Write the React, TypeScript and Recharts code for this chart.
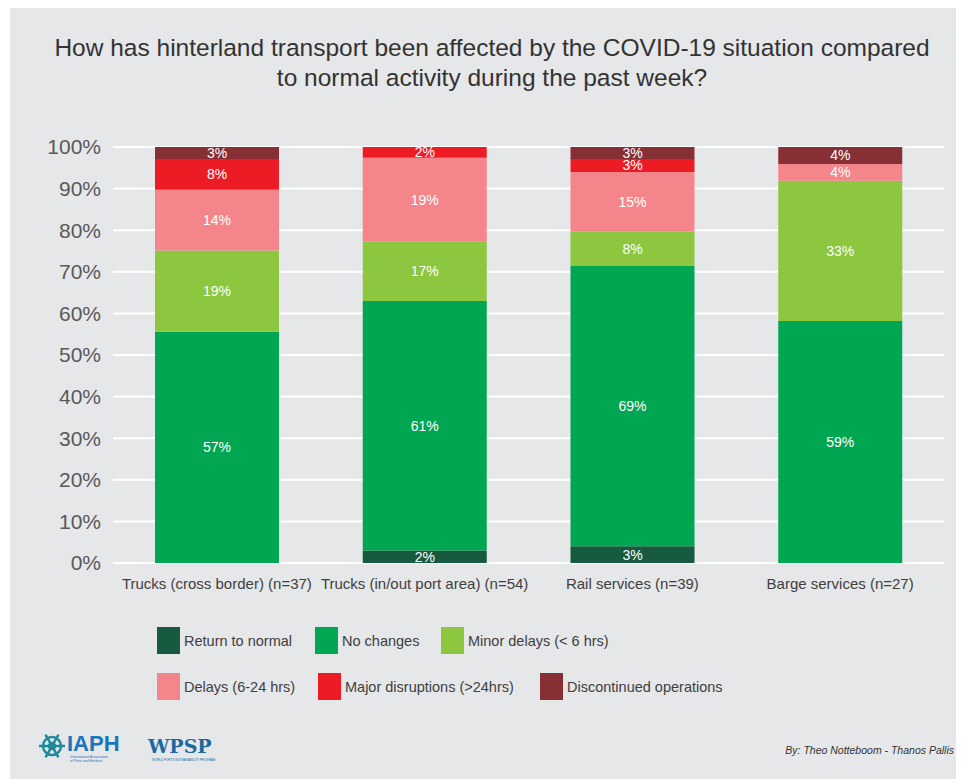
import React from 'react'
import { Bar, BarChart, CartesianGrid, LabelList, XAxis, YAxis } from 'recharts'

const categories = [
  'Trucks (cross border) (n=37)',
  'Trucks (in/out port area) (n=54)',
  'Rail services (n=39)',
  'Barge services (n=27)',
]
// segment heights as drawn (%)
const returnToNormal = [0, 3.0, 4.0, 0]
const noChanges = [55.6, 60.0, 67.4, 58.2]
const minorDelays = [19.5, 14.2, 8.2, 33.7]
const delays = [14.6, 20.2, 14.4, 4.0]
const majorDisruptions = [7.4, 2.6, 3.1, 0]
const discontinued = [2.9, 0, 2.9, 4.1]
// percentages printed on the segments
const returnLabels = ['', '2%', '3%', '']
const noChangesLabels = ['57%', '61%', '69%', '59%']
const minorLabels = ['19%', '17%', '8%', '33%']
const delaysLabels = ['14%', '19%', '15%', '4%']
const majorLabels = ['8%', '2%', '3%', '']
const discontinuedLabels = ['3%', '', '3%', '4%']
const yTicks = [0, 10, 20, 30, 40, 50, 60, 70, 80, 90, 100]

const series = [
  { key: 'ret', name: 'Return to normal', color: '#175a3f', values: returnToNormal, labels: returnLabels },
  { key: 'noc', name: 'No changes', color: '#00a651', values: noChanges, labels: noChangesLabels },
  { key: 'min', name: 'Minor delays (< 6 hrs)', color: '#8dc63f', values: minorDelays, labels: minorLabels },
  { key: 'del', name: 'Delays (6-24 hrs)', color: '#f4868b', values: delays, labels: delaysLabels },
  { key: 'maj', name: 'Major disruptions (>24hrs)', color: '#ed1c24', values: majorDisruptions, labels: majorLabels },
  { key: 'dis', name: 'Discontinued operations', color: '#862f35', values: discontinued, labels: discontinuedLabels },
]

const data = categories.map((c, i) => {
  const row: any = { name: c }
  series.forEach((s) => {
    row[s.key] = s.values[i]
    row[s.key + 'Label'] = s.labels[i]
  })
  return row
})

const font = '"Liberation Sans", Arial, Helvetica, sans-serif'

// legend squares placed like the original (page coords minus the 10/8 offset)
const legendPos = [
  { x: 147, y: 619 },
  { x: 305, y: 619 },
  { x: 431, y: 619 },
  { x: 147, y: 665 },
  { x: 308, y: 665 },
  { x: 530, y: 665 },
]

export default function App() {
  return (
    <div
      style={{
        position: 'relative',
        width: 954,
        height: 771,
        marginLeft: 2,
        background: '#e6e7e9',
        fontFamily: font,
        overflow: 'hidden',
      }}
    >
      <div
        style={{
          position: 'absolute',
          left: 0,
          top: 25,
          width: 964,
          textAlign: 'center',
          fontSize: 24.5,
          lineHeight: '30px',
          color: '#333',
        }}
      >
        How has hinterland transport been affected by the COVID-19 situation compared
        <br />
        to normal activity during the past week?
      </div>

      <div style={{ position: 'absolute', left: 0, top: 0 }}>
        <BarChart
          width={954}
          height={600}
          data={data}
          margin={{ top: 139, right: 20, left: 0, bottom: 15 }}
        >
          <CartesianGrid vertical={false} stroke="#ffffff" strokeWidth={2} />
          <XAxis
            dataKey="name"
            axisLine={false}
            tickLine={false}
            height={30}
            tickMargin={9}
            tick={{ fontSize: 15, fill: '#404040', fontFamily: font }}
            interval={0}
          />
          <YAxis
            width={103}
            domain={[0, 100]}
            ticks={yTicks}
            axisLine={false}
            tickLine={false}
            tickMargin={6}
            tickFormatter={(v: number) => v + '%'}
            tick={{ fontSize: 21, fill: '#595959', fontFamily: font }}
          />
          {series.map((s) => (
            <Bar
              key={s.key}
              dataKey={s.key}
              name={s.name}
              stackId="a"
              fill={s.color}
              barSize={124}
              isAnimationActive={false}
            >
              <LabelList
                dataKey={s.key + 'Label'}
                position="center"
                fill="#ffffff"
                fontSize={14}
                fontFamily={font}
              />
            </Bar>
          ))}
        </BarChart>
      </div>

      {series.map((s, i) => (
        <div
          key={s.key}
          style={{
            position: 'absolute',
            left: legendPos[i].x,
            top: legendPos[i].y,
            display: 'flex',
            alignItems: 'center',
            fontSize: 14.5,
            color: '#404040',
            whiteSpace: 'nowrap',
          }}
        >
          <div style={{ width: 23, height: 27, background: s.color, marginRight: 4 }} />
          {s.name}
        </div>
      ))}

      {/* logos, approximated */}
      <svg style={{ position: 'absolute', left: 18, top: 718 }} width={200} height={44}>
        <g transform="translate(24,20)" stroke="#1f8a9a" strokeWidth={2.5} fill="none">
          <circle r={9} />
          <circle r={3} fill="#1f8a9a" />
          {[0, 60, 120, 180, 240, 300].map((a) => (
            <line
              key={a}
              x1={0}
              y1={0}
              x2={13 * Math.cos((a * Math.PI) / 180)}
              y2={13 * Math.sin((a * Math.PI) / 180)}
            />
          ))}
        </g>
        <text x={39} y={25} fontSize={22} fontWeight="bold" fill="#1a75bb" fontFamily={font}>
          IAPH
        </text>
        <text x={42} y={32} fontSize={3.5} fill="#1a75bb" fontFamily={font}>
          International Association
        </text>
        <text x={42} y={36} fontSize={3.5} fill="#1a75bb" fontFamily={font}>
          of Ports and Harbors
        </text>
        <text x={120} y={27} fontSize={19} fontWeight="bold" fill="#1a6aa0" fontFamily="'DejaVu Serif', serif">
          WPSP
        </text>
        <text x={124} y={35} fontSize={3} fill="#1a6aa0" fontFamily={font}>
          WORLD PORTS SUSTAINABILITY PROGRAM
        </text>
      </svg>

      <div
        style={{
          position: 'absolute',
          right: 10,
          top: 736,
          fontSize: 10.5,
          fontStyle: 'italic',
          color: '#333',
        }}
      >
        By: Theo Notteboom - Thanos Pallis
      </div>
    </div>
  )
}
